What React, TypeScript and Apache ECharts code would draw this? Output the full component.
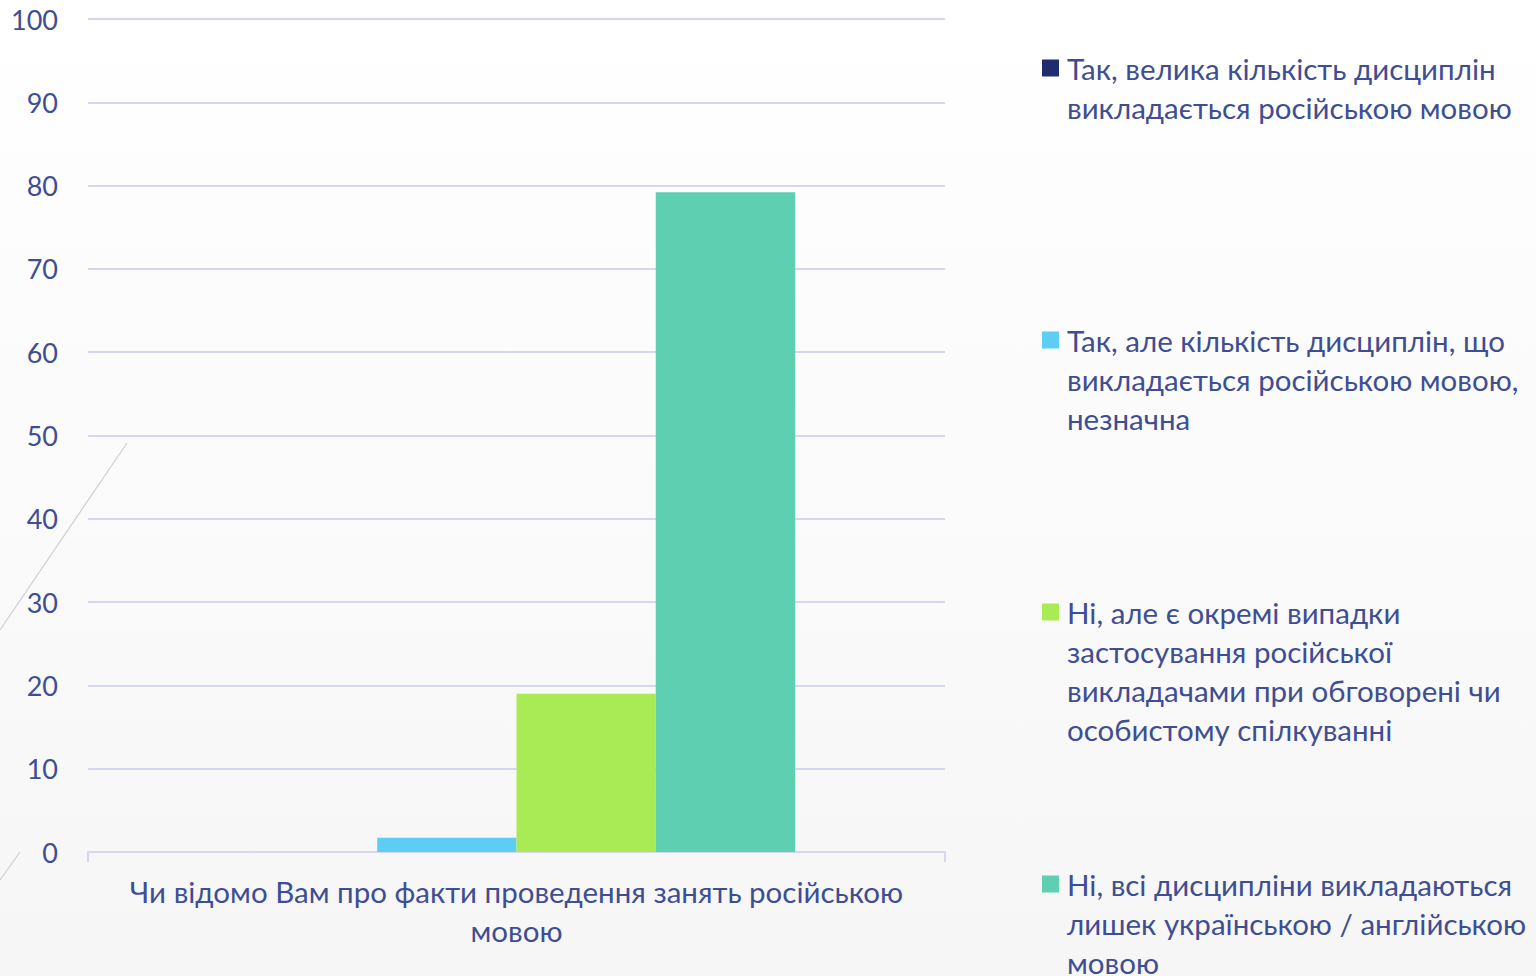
import React, { useEffect, useRef } from "react";
import * as echarts from "echarts";

const categories = ["Чи відомо Вам про факти проведення занять російською\nмовою"];
const seriesNames = [
  "Так, велика кількість дисциплін\nвикладається російською мовою",
  "Так, але кількість дисциплін, що\nвикладається російською мовою,\nнезначна",
  "Ні, але є окремі випадки\nзастосування російської\nвикладачами при обговорені чи\nособистому спілкуванні",
  "Ні, всі дисципліни викладаються\nлишек українською / англійською\nмовою",
];
const seriesValues = [[0], [1.7], [19.0], [79.2]];
const seriesColors = ["#1f2d6e", "#5dcdf3", "#a9eb54", "#5ecfb1"];
const legendFirstLineY = [68, 340, 612, 884];

const TEXT = "#3f4e93";
const FONT = "Lato, 'Noto Sans', sans-serif";
const LH = 39;

export default function App() {
  const ref = useRef<HTMLDivElement>(null);
  useEffect(() => {
    if (!ref.current) return;
    const chart = echarts.init(ref.current, null, { renderer: "svg" });
    const legends = seriesNames.map((name, i) => {
      const n = name.split("\n").length;
      return {
        data: [name],
        orient: "vertical",
        left: 1042,
        top: legendFirstLineY[i] - ((2 * n - 1) * LH) / 2,
        padding: 0,
        itemWidth: 17,
        itemHeight: 17,
        icon: "rect",
        selectedMode: false,
        formatter: (nm: string) => "\n".repeat(nm.split("\n").length - 1) + nm,
        textStyle: {
          color: TEXT,
          fontSize: 29.5,
          fontFamily: FONT,
          lineHeight: LH,
          padding: [0, 0, 0, 3],
        },
      };
    });
    chart.setOption({
      animation: false,
      backgroundColor: {
        type: "linear",
        x: 0,
        y: 0,
        x2: 0,
        y2: 1,
        colorStops: [
          { offset: 0, color: "#ffffff" },
          { offset: 1, color: "#f6f6f6" },
        ],
      },
      grid: { left: 88, right: 591, top: 19, bottom: 124, containLabel: false },
      legend: legends,
      xAxis: {
        type: "category",
        data: categories,
        axisLine: { lineStyle: { color: "#d5d7ee", width: 2 } },
        axisTick: { show: true, length: 10, lineStyle: { color: "#d5d7ee", width: 2 } },
        axisLabel: {
          color: TEXT,
          fontSize: 29.5,
          lineHeight: 39,
          fontFamily: "'Liberation Sans Narrow', Lato, sans-serif",
          margin: 20,
        },
      },
      yAxis: {
        type: "value",
        min: 0,
        max: 100,
        interval: 10,
        axisLine: { show: false },
        axisTick: { show: false },
        splitLine: { lineStyle: { color: "#d5d7ee", width: 2 } },
        axisLabel: { color: TEXT, fontSize: 27, fontFamily: FONT, margin: 30 },
      },
      series: seriesNames.map((name, i) => ({
        name,
        type: "bar",
        data: seriesValues[i],
        itemStyle: { color: seriesColors[i] },
        barGap: "0%",
        barCategoryGap: "35%",
      })),
      graphic: [
        { type: "line", shape: { x1: 127, y1: 443, x2: 0, y2: 630 }, style: { stroke: "#cfcfd4", lineWidth: 1.2 }, silent: true },
        { type: "line", shape: { x1: 20, y1: 852, x2: 0, y2: 880 }, style: { stroke: "#cfcfd4", lineWidth: 1.2 }, silent: true },
      ],
    });
    return () => chart.dispose();
  }, []);
  return (
    <div
      ref={ref}
      style={{ position: "fixed", left: 0, top: 0, width: 1536, height: 976 }}
    />
  );
}
